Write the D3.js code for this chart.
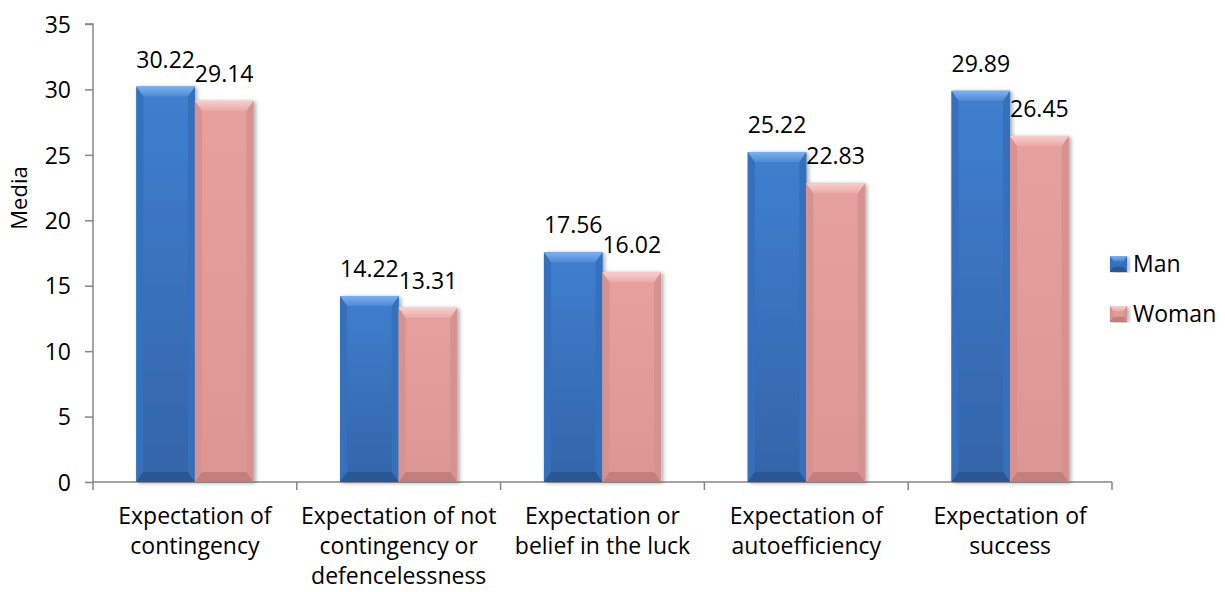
<!DOCTYPE html>
<html>
<head>
<meta charset="utf-8">
<script src="https://cdn.jsdelivr.net/npm/d3@7"></script>
<style>
  html, body { margin: 0; padding: 0; background: #fff; }
  svg { display: block; font-family: "Open Sans", "Noto Sans", sans-serif; }
</style>
</head>
<body>
<svg id="chart" width="1225" height="592"></svg>
<script>
// Mean scores by dimension and sex
const categories = [
  "Expectation of\ncontingency",
  "Expectation of not\ncontingency or\ndefencelessness",
  "Expectation or\nbelief in the luck",
  "Expectation of\nautoefficiency",
  "Expectation of\nsuccess"
];
const seriesNames = ["Man", "Woman"];
const manValues = [30.22, 14.22, 17.56, 25.22, 29.89];
const womanValues = [29.14, 13.31, 16.02, 22.83, 26.45];
const yTicks = [0, 5, 10, 15, 20, 25, 30, 35];
const yTitle = "Media";

const svg = d3.select("#chart");
const plotLeft = 93, plotRight = 1112, plotTop = 24, plotBottom = 482;

const x = d3.scaleBand().domain(categories).range([plotLeft, plotRight]).padding(0);
const xSub = d3.scaleBand().domain(seriesNames).range([0, x.bandwidth()])
  .paddingInner(0).paddingOuter(0.74);
const y = d3.scaleLinear().domain([0, 35]).range([plotBottom, plotTop]);

// colours for the bevelled bars
const palette = {
  Man:   { hi: "#7eb0ec", hi2: "#4f8ad6", faceTop: "#3f7fcf", faceBot: "#3464a8", side: "#356fbd", low: "#2b5794" },
  Woman: { hi: "#f7cfcd", hi2: "#eaaaa8", faceTop: "#e6a19f", faceBot: "#dc9795", side: "#d69290", low: "#c27f7d" }
};

const defs = svg.append("defs");
Object.entries(palette).forEach(([k, c]) => {
  const g1 = defs.append("linearGradient").attr("id", "face-" + k)
    .attr("x1", 0).attr("y1", 0).attr("x2", 0).attr("y2", 1);
  g1.append("stop").attr("offset", "0%").attr("stop-color", c.faceTop);
  g1.append("stop").attr("offset", "100%").attr("stop-color", c.faceBot);
  const g2 = defs.append("linearGradient").attr("id", "top-" + k)
    .attr("x1", 0).attr("y1", 0).attr("x2", 0).attr("y2", 1);
  g2.append("stop").attr("offset", "0%").attr("stop-color", c.hi);
  g2.append("stop").attr("offset", "100%").attr("stop-color", c.hi2);
});
const shadow = defs.append("filter").attr("id", "shadow")
  .attr("x", "-20%").attr("y", "-5%").attr("width", "140%").attr("height", "110%");
shadow.append("feGaussianBlur").attr("in", "SourceAlpha").attr("stdDeviation", 2);
shadow.append("feOffset").attr("dx", 2).attr("dy", 1).attr("result", "off");
shadow.append("feComponentTransfer").append("feFuncA").attr("type", "linear").attr("slope", 0.35);
const merge = shadow.append("feMerge");
merge.append("feMergeNode");
merge.append("feMergeNode").attr("in", "SourceGraphic");

// draws a bevelled rectangle in group g
function bevelBox(g, key, x0, y0, x1, y1, d) {
  const c = palette[key];
  const dh = Math.min(d, (y1 - y0) / 2), dw = Math.min(d * 0.7, (x1 - x0) / 2);
  const pts = a => a.map(p => p.join(",")).join(" ");
  g.append("polygon").attr("points", pts([[x0, y0], [x1, y0], [x1, y1], [x0, y1]]))
    .attr("fill", `url(#face-${key})`);
  g.append("polygon").attr("points", pts([[x0, y0], [x0 + dw, y0 + dh], [x0 + dw, y1 - dh], [x0, y1]]))
    .attr("fill", c.side);
  g.append("polygon").attr("points", pts([[x1, y0], [x1 - dw, y0 + dh], [x1 - dw, y1 - dh], [x1, y1]]))
    .attr("fill", c.side);
  g.append("polygon").attr("points", pts([[x0, y1], [x0 + dw, y1 - dh], [x1 - dw, y1 - dh], [x1, y1]]))
    .attr("fill", c.low);
  g.append("polygon").attr("points", pts([[x0, y0], [x1, y0], [x1 - dw, y0 + dh], [x0 + dw, y0 + dh]]))
    .attr("fill", `url(#top-${key})`);
}

// axes
const axisColor = "#868686";
const yAxis = svg.append("g").attr("transform", `translate(${plotLeft},0)`)
  .call(d3.axisLeft(y).tickValues(yTicks).tickSize(8).tickPadding(14).tickFormat(d3.format("d")));
yAxis.select(".domain").attr("stroke", axisColor).attr("stroke-width", 1.5)
  .attr("d", `M-8,${plotTop}H0V${plotBottom}`);
yAxis.selectAll(".tick line").attr("stroke", axisColor).attr("stroke-width", 1.5);
yAxis.selectAll(".tick text").attr("font-size", 23).attr("fill", "#000")
  .attr("font-family", "Open Sans, sans-serif").attr("dy", "0.36em");

const xAxis = svg.append("g").attr("transform", `translate(0,${plotBottom})`);
xAxis.append("line").attr("x1", plotLeft).attr("x2", plotRight).attr("y1", 0).attr("y2", 0)
  .attr("stroke", axisColor).attr("stroke-width", 1.5);
const boundaries = categories.map(c => x(c)).concat([x(categories[categories.length - 1]) + x.bandwidth()]);
xAxis.selectAll("line.tk").data(boundaries).join("line").attr("class", "tk")
  .attr("x1", d => d).attr("x2", d => d).attr("y1", 0).attr("y2", 8)
  .attr("stroke", axisColor).attr("stroke-width", 1.5);

xAxis.selectAll("text.cat").data(categories).join("text").attr("class", "cat")
  .attr("x", d => x(d) + x.bandwidth() / 2)
  .attr("text-anchor", "middle").attr("font-size", 23).attr("fill", "#000")
  .each(function (d) {
    d3.select(this).selectAll("tspan").data(d.split("\n")).join("tspan")
      .attr("x", x(d) + x.bandwidth() / 2)
      .attr("y", (l, i) => 42 + i * 30)
      .text(l => l);
  });

// y-axis title
svg.append("text").attr("transform", `translate(27,198) rotate(-90)`)
  .attr("text-anchor", "middle").attr("font-size", 22).attr("fill", "#000").text(yTitle);

// bars
const rows = categories.map((c, i) => ({ c, vals: [["Man", manValues[i]], ["Woman", womanValues[i]]] }));
const barLayer = svg.append("g").attr("filter", "url(#shadow)");
rows.forEach(r => {
  r.vals.forEach(([k, v]) => {
    const x0 = x(r.c) + xSub(k), x1 = x0 + xSub.bandwidth();
    bevelBox(barLayer.append("g"), k, x0, y(v), x1, y(0), 10);
  });
});

// value labels
const labels = svg.append("g");
rows.forEach(r => {
  r.vals.forEach(([k, v]) => {
    labels.append("text")
      .attr("x", x(r.c) + xSub(k) + xSub.bandwidth() / 2)
      .attr("y", y(v) - 19)
      .attr("text-anchor", "middle").attr("font-size", 23).attr("fill", "#000")
      .text(v.toFixed(2));
  });
});

// legend
const legend = svg.append("g");
seriesNames.forEach((k, i) => {
  const ly = 256 + i * 50;
  const g = legend.append("g").attr("filter", "url(#shadow)");
  bevelBox(g, k, 1110, ly, 1127, ly + 16, 5);
  legend.append("text").attr("x", 1133).attr("y", ly + 16).attr("font-size", 23)
    .attr("fill", "#000").text(k);
});
</script>
</body>
</html>
